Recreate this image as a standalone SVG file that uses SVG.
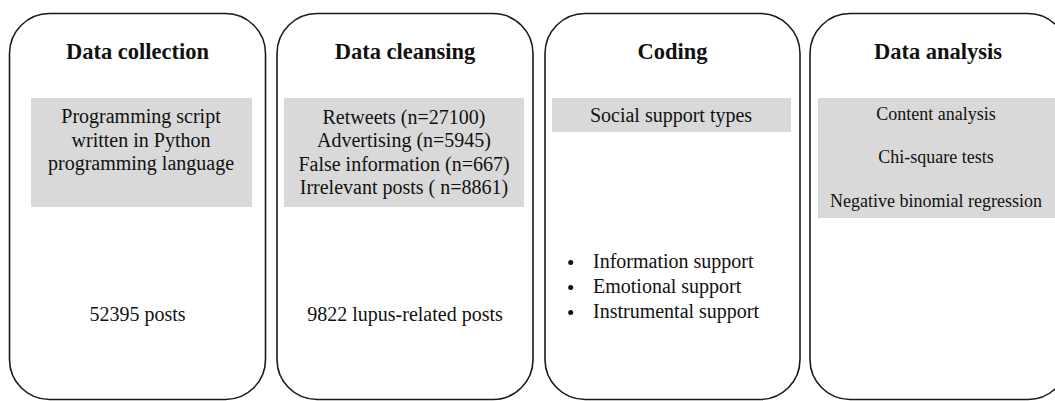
<svg xmlns="http://www.w3.org/2000/svg" width="1055" height="401" viewBox="0 0 1055 401">
<style>
.box{fill:#fff;stroke:#1a1a1a;stroke-width:1.6}
.band{fill:#d9d9d9}
.t{font-family:"Liberation Serif","Times New Roman",serif;fill:#111;text-anchor:middle}
.h{font-size:22.5px;font-weight:bold}
.b{font-size:20px}
.s{font-size:18px}
.l{font-family:"Liberation Serif","Times New Roman",serif;fill:#111;font-size:20px}
.dot{fill:#111}
</style>
<rect width="1055" height="401" fill="#fff"/>
<g id="connectors"></g>
<g id="node-collection">
<rect class="box" x="9.5" y="13.5" width="256" height="386" rx="40" ry="40"/>
<text class="t h" x="137.5" y="59">Data collection</text>
<rect class="band" x="31" y="98" width="221" height="109"/>
<text class="t b" x="141" y="123">Programming script</text>
<text class="t b" x="141" y="147">written in Python</text>
<text class="t b" x="141" y="170">programming language</text>
<text class="t b" x="137.5" y="321">52395 posts</text>
</g>
<g id="node-cleansing">
<rect class="box" x="277" y="13.5" width="256" height="386" rx="40" ry="40"/>
<text class="t h" x="405" y="59">Data cleansing</text>
<rect class="band" x="284" y="98" width="240" height="109"/>
<text class="t b" x="404" y="124">Retweets (n=27100)</text>
<text class="t b" x="404" y="147">Advertising (n=5945)</text>
<text class="t b" x="404" y="171">False information (n=667)</text>
<text class="t b" x="404" y="194">Irrelevant posts ( n=8861)</text>
<text class="t b" x="405" y="321">9822 lupus-related posts</text>
</g>
<g id="node-coding">
<rect class="box" x="545" y="13.5" width="255" height="386" rx="40" ry="40"/>
<text class="t h" x="672.5" y="59">Coding</text>
<rect class="band" x="552" y="98" width="239" height="34"/>
<text class="t b" x="671" y="122">Social support types</text>
<circle class="dot" cx="570.7" cy="262.5" r="2.5"/>
<text class="l" x="593" y="268">Information support</text>
<circle class="dot" cx="570.7" cy="287.5" r="2.5"/>
<text class="l" x="593" y="293">Emotional support</text>
<circle class="dot" cx="570.7" cy="312.5" r="2.5"/>
<text class="l" x="593" y="318">Instrumental support</text>
</g>
<g id="node-analysis">
<rect class="box" x="810" y="13.5" width="258" height="386" rx="40" ry="40"/>
<text class="t h" x="938" y="59">Data analysis</text>
<rect class="band" x="818" y="98" width="237" height="120"/>
<text class="t s" x="936" y="120">Content analysis</text>
<text class="t s" x="936" y="163">Chi-square tests</text>
<text class="t s" x="936" y="207">Negative binomial regression</text>
</g>
</svg>
